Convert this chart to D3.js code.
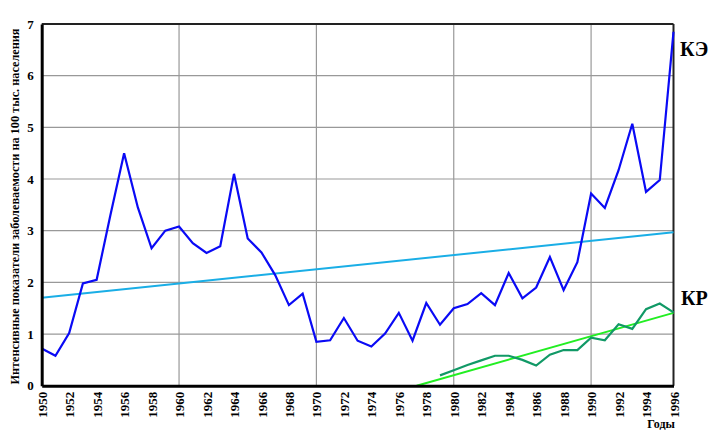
<!DOCTYPE html>
<html>
<head>
<meta charset="utf-8">
<script src="https://d3js.org/d3.v7.min.js"></script>
<style>
  body { margin: 0; background: #fff; }
  svg { display: block; font-family: "Liberation Serif", "DejaVu Serif", serif; font-weight: bold; }
</style>
</head>
<body>
<div id="chart"></div>
<script>
// KE incidence per 100k, 1950-1996
const years = d3.range(1950, 1997);
const keValues = [0.72, 0.58, 1.02, 1.98, 2.05, 3.3, 4.5, 3.45, 2.66, 3.0, 3.08, 2.76, 2.57, 2.7, 4.1,
  2.85, 2.58, 2.14, 1.56, 1.78, 0.85, 0.88, 1.31, 0.87, 0.76, 1.01, 1.41, 0.87, 1.6, 1.18,
  1.5, 1.58, 1.79, 1.56, 2.18, 1.69, 1.9, 2.49, 1.85, 2.39, 3.72, 3.44, 4.17, 5.07, 3.75, 3.98, 6.85];

// KR incidence, 1979-1996
const krYears = d3.range(1979, 1997);
const krValues = [0.2, 0.3, 0.4, 0.49, 0.58, 0.58, 0.5, 0.39, 0.6, 0.69, 0.69, 0.93, 0.88, 1.19, 1.1, 1.48, 1.59, 1.42];

// trend lines (endpoints)
const keTrend = [[1950, 1.7], [1996, 2.97]];
const krTrend = [[1977.3, 0], [1996, 1.41]];

const yearTicks = d3.range(1950, 1997, 2);
const valueTicks = d3.range(0, 8);
const gridYears = [1960, 1970, 1980, 1990];

const W = 720, H = 448;
const m = { left: 41.7, right: 46.5, top: 24, bottom: 62.3 };

const svg = d3.select("#chart").append("svg").attr("width", W).attr("height", H);

const x = d3.scaleLinear().domain([1950, 1996]).range([m.left, W - m.right]);
const y = d3.scaleLinear().domain([0, 7]).range([H - m.bottom, m.top]);

// grid
svg.append("g").selectAll("line").data(valueTicks.slice(1, 7)).join("line")
  .attr("x1", x(1950)).attr("x2", x(1996))
  .attr("y1", d => y(d)).attr("y2", d => y(d))
  .attr("stroke", "#999").attr("stroke-width", 1.2);
svg.append("g").selectAll("line").data(gridYears).join("line")
  .attr("x1", d => x(d)).attr("x2", d => x(d))
  .attr("y1", y(0)).attr("y2", y(7))
  .attr("stroke", "#999").attr("stroke-width", 1.2);

// frame
svg.append("line").attr("x1", x(1950)).attr("x2", x(1996)).attr("y1", y(7)).attr("y2", y(7))
  .attr("stroke", "#222").attr("stroke-width", 2);
svg.append("line").attr("x1", x(1996)).attr("x2", x(1996)).attr("y1", y(7)).attr("y2", y(0))
  .attr("stroke", "#222").attr("stroke-width", 2);

const line = d3.line().x(d => x(d[0])).y(d => y(d[1]));

svg.append("path").datum(keTrend).attr("d", line)
  .attr("fill", "none").attr("stroke", "#1aaee6").attr("stroke-width", 2);
svg.append("path").datum(krTrend).attr("d", line)
  .attr("fill", "none").attr("stroke", "#22ee22").attr("stroke-width", 2);
svg.append("path").datum(krYears.map((yr, i) => [yr, krValues[i]])).attr("d", line)
  .attr("fill", "none").attr("stroke", "#119966").attr("stroke-width", 2.2);
svg.append("path").datum(years.map((yr, i) => [yr, keValues[i]])).attr("d", line)
  .attr("fill", "none").attr("stroke", "#0a0af5").attr("stroke-width", 2.2);

// axes
const xAxis = svg.append("g").attr("transform", `translate(0,${y(0)})`)
  .call(d3.axisBottom(x).tickValues(yearTicks).tickFormat(d3.format("d")).tickSize(0));
xAxis.select(".domain").attr("stroke", "#000").attr("stroke-width", 3);
xAxis.selectAll("text")
  .attr("transform", "rotate(-90)")
  .attr("text-anchor", "end")
  .attr("x", -6).attr("y", 0).attr("dy", "0.35em")
  .style("font-size", "13px").style("font-family", "Liberation Serif").style("font-weight", "bold")
  .attr("fill", "#000");

const yAxis = svg.append("g").attr("transform", `translate(${x(1950)},0)`)
  .call(d3.axisLeft(y).tickValues(valueTicks).tickFormat(d3.format("d")).tickSize(0).tickPadding(8));
yAxis.select(".domain").attr("stroke", "#000").attr("stroke-width", 3);
yAxis.selectAll("text")
  .style("font-size", "13px").style("font-family", "Liberation Serif").style("font-weight", "bold")
  .attr("fill", "#000");

// titles
svg.append("text")
  .attr("transform", "translate(19,206.5) rotate(-90)")
  .attr("text-anchor", "middle")
  .attr("textLength", 356).attr("lengthAdjust", "spacingAndGlyphs")
  .style("font-size", "12.5px")
  .text("Интенсивные показатели заболеваемости на 100 тыс. населения");

svg.append("text").attr("x", 661).attr("y", 428).attr("text-anchor", "middle")
  .style("font-size", "12px").text("Годы");

svg.append("text").attr("x", 680).attr("y", 56).style("font-size", "20px").text("КЭ");
svg.append("text").attr("x", 681).attr("y", 305).style("font-size", "20px").text("КР");
</script>
</body>
</html>
